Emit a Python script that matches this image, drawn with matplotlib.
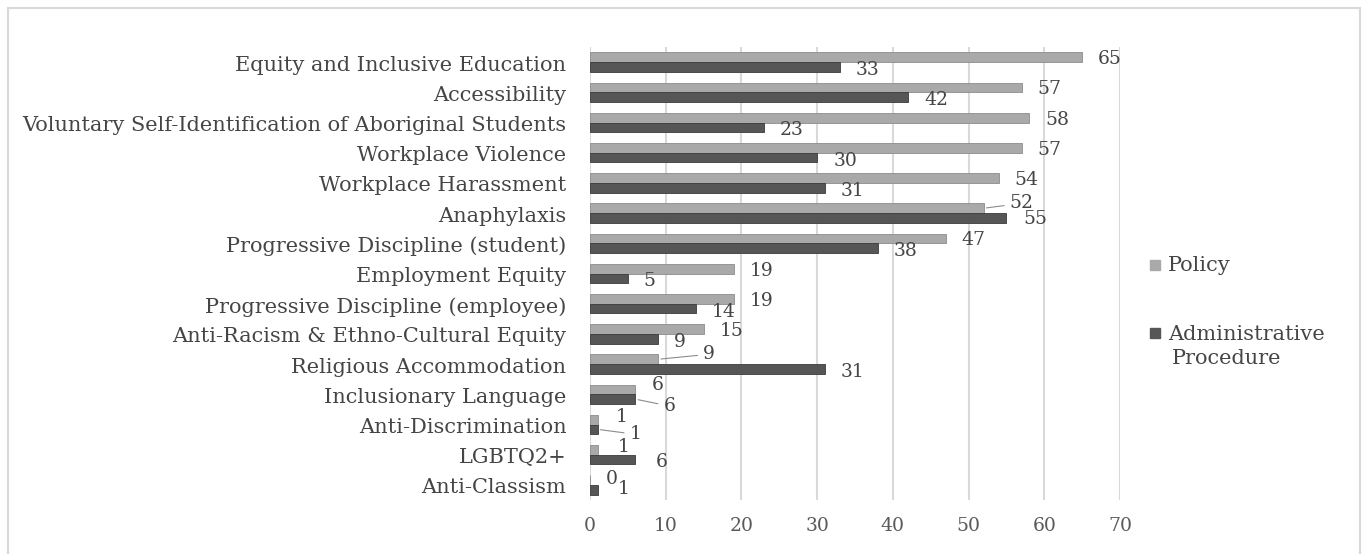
import numpy as np
import matplotlib
matplotlib.use("Agg")
import matplotlib.pyplot as plt
from matplotlib.patches import Rectangle

categories = ["Equity and Inclusive Education", "Accessibility",
              "Voluntary Self-Identification of Aboriginal Students",
              "Workplace Violence", "Workplace Harassment", "Anaphylaxis",
              "Progressive Discipline (student)", "Employment Equity",
              "Progressive Discipline (employee)",
              "Anti-Racism & Ethno-Cultural Equity", "Religious Accommodation",
              "Inclusionary Language", "Anti-Discrimination", "LGBTQ2+",
              "Anti-Classism"]
policy = [65, 57, 58, 57, 54, 52, 47, 19, 19, 15, 9, 6, 1, 1, 0]
admin = [33, 42, 23, 30, 31, 55, 38, 5, 14, 9, 31, 6, 1, 6, 1]
xticks = [0, 10, 20, 30, 40, 50, 60, 70]

# label offsets in pixels (dx, dy up), overrides for crowded rows
pol_off = {5: (26, 5), 10: (45, 5), 11: (16, 4), 12: (18, 3), 13: (20, 3), 14: (16, 1)}
adm_off = {5: (17, -1), 11: (28, -7), 12: (32, -5), 13: (20, -2), 14: (20, 1)}
leader_pol = {5, 10}
leader_adm = {11, 12}

plt.rcParams["font.family"] = ["DejaVu Serif"]
fs = 13.5
fs_cat = 15

fig = plt.figure(figsize=(13.65, 5.54), dpi=100)
ax = fig.add_axes([590 / 1365, 1 - 500 / 554, 530 / 1365, 453 / 554])

c_pol = "#a9a9a9"
c_adm = "#565656"
txt = "#454545"
y = np.arange(len(categories))
h = 0.32
ax.barh(y - h / 2, policy, height=h, color=c_pol, edgecolor="#8c8c8c", linewidth=0.6, zorder=3)
ax.barh(y + h / 2, admin, height=h, color=c_adm, edgecolor="#3a3a3a", linewidth=0.6, zorder=3)

for i in range(len(categories)):
    dx, dy = pol_off.get(i, (16, -2))
    ap = dict(arrowstyle="-", color="#8c8c8c", lw=0.8) if i in leader_pol else None
    ax.annotate(str(policy[i]), (policy[i], y[i] - h / 2), xytext=(dx, dy),
                textcoords="offset pixels", va="center", ha="left",
                fontsize=fs, color=txt, arrowprops=ap, zorder=4)
    dx, dy = adm_off.get(i, (16, -3))
    ap = dict(arrowstyle="-", color="#8c8c8c", lw=0.8) if i in leader_adm else None
    ax.annotate(str(admin[i]), (admin[i], y[i] + h / 2), xytext=(dx, dy),
                textcoords="offset pixels", va="center", ha="left",
                fontsize=fs, color=txt, arrowprops=ap, zorder=4)

ax.set_xlim(0, 70)
ax.set_ylim(len(categories) - 0.5, -0.5)
ax.set_xticks(xticks)
# category labels sit a touch below the bar-pair centre, as in the original
ax.set_yticks(y + 0.1)
ax.set_yticklabels(categories, fontsize=fs_cat, color=txt, va="center")
ax.tick_params(axis="y", length=0, pad=17)
ax.tick_params(axis="x", length=0, pad=12, labelsize=13.5, labelcolor="#595959")
ax.grid(axis="x", color="#d9d9d9", lw=1.5, zorder=0)
for s in ax.spines.values():
    s.set_visible(False)

# legend
fig.patches.append(Rectangle((1150 / 1365, 1 - 270 / 554), 10 / 1365, 10 / 554,
                             transform=fig.transFigure, color=c_pol))
fig.text(1168 / 1365, 1 - 266 / 554, "Policy", fontsize=fs_cat, color=txt, va="center")
fig.patches.append(Rectangle((1150 / 1365, 1 - 338 / 554), 10 / 1365, 10 / 554,
                             transform=fig.transFigure, color=c_adm))
fig.text(1168 / 1365, 1 - 334 / 554, "Administrative", fontsize=fs_cat, color=txt, va="center")
fig.text(1172 / 1365, 1 - 358 / 554, "Procedure", fontsize=fs_cat, color=txt, va="center")

# outer frame
fig.patches.append(Rectangle((8 / 1365, -0.05), 1352 / 1365, 1.05 - 8 / 554,
                             transform=fig.transFigure, fill=False,
                             edgecolor="#d9d9d9", lw=1.5))

fig.savefig("out.png", dpi=100)
